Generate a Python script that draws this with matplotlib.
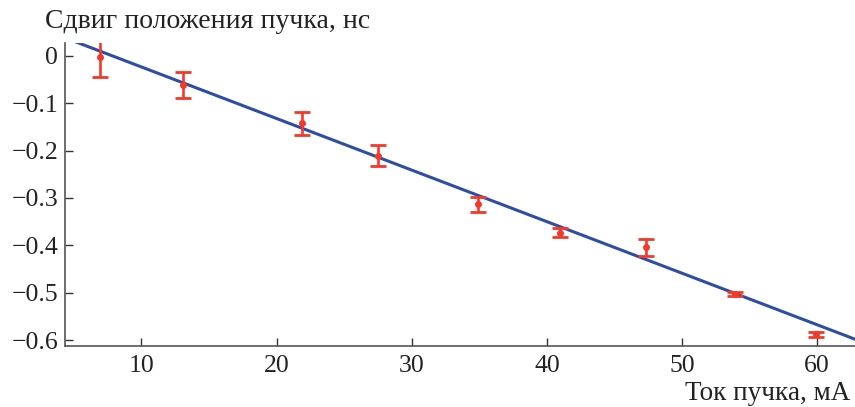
import matplotlib
matplotlib.use("Agg")
import matplotlib.pyplot as plt
import numpy as np

plt.rcParams['font.family'] = ['Liberation Serif', 'DejaVu Serif']
plt.rcParams['axes.unicode_minus'] = True

# Measured beam position shift vs beam current
current = [6.9, 13.1, 21.9, 27.5, 34.9, 41.0, 47.3, 53.9, 59.9]
shift = [-0.002, -0.061, -0.142, -0.211, -0.313, -0.373, -0.404, -0.503, -0.588]
shift_err = [0.042, 0.027, 0.024, 0.022, 0.016, 0.010, 0.018, 0.005, 0.005]

# Linear fit line
fit_slope = -0.01089
fit_intercept = 0.0856
fit_range = [5.15, 63.0]

xticks = [10, 20, 30, 40, 50, 60]
yticks = [0, -0.1, -0.2, -0.3, -0.4, -0.5, -0.6]
ytick_labels = ['0', '\u22120.1', '\u22120.2', '\u22120.3', '\u22120.4', '\u22120.5', '\u22120.6']

fig = plt.figure(figsize=(8.55, 4.07), dpi=100)
ax = fig.add_axes([0.076, 0.1506, 0.924, 0.7434])

fx = np.array(fit_range)
ax.plot(fx, fit_intercept + fit_slope * fx, color='#2e4ea6', lw=2.2, zorder=2)

ax.errorbar(current, shift, yerr=shift_err, fmt='o', ms=4, color='#f5382a',
            ecolor='#f5382a', elinewidth=1.9, capsize=5.5, capthick=2.0, zorder=3)

ax.set_xlim(4.34, 62.8)
ax.set_ylim(-0.612, 0.027)
ax.set_xticks(xticks)
ax.set_xticklabels([str(t) for t in xticks])
ax.set_yticks(yticks)
ax.set_yticklabels(ytick_labels)

for s in ['top', 'right']:
    ax.spines[s].set_visible(False)
for s in ['left', 'bottom']:
    ax.spines[s].set_color('#555555')
    ax.spines[s].set_linewidth(1.2)

ax.tick_params(axis='both', direction='in', length=6, width=1.0, color='#333333',
               labelsize=18.5, labelcolor='#222222')
ax.tick_params(axis='x', pad=7)
ax.tick_params(axis='y', pad=5)

fig.text(0.053, 0.946, 'Сдвиг положения пучка, нс', fontsize=20, color='#222222',
         ha='left', va='center')
fig.text(0.995, 0.034, 'Ток пучка, мА', fontsize=19.5, color='#222222',
         ha='right', va='center')

fig.savefig('out.png', dpi=100)
